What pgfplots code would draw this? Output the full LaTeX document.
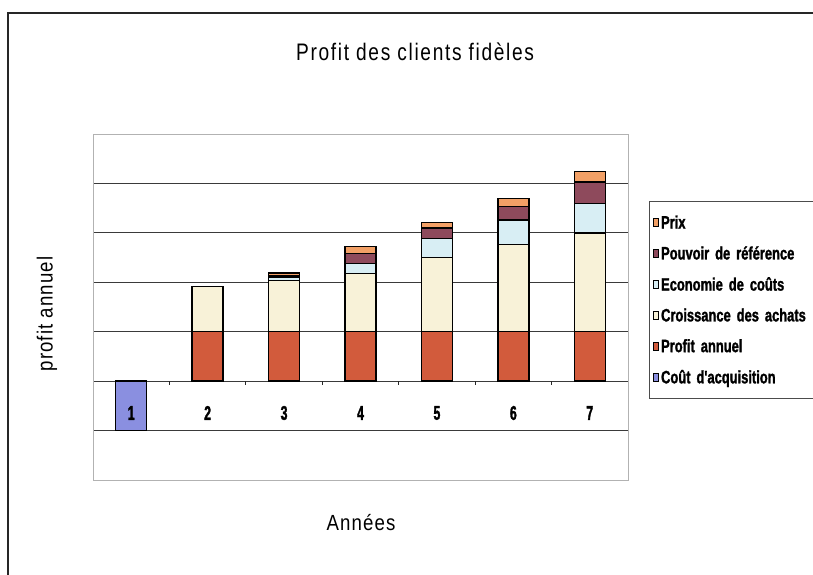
\documentclass[border=0pt]{standalone}
\usepackage{pgfplots}
\usepackage{pgfplotstable}
\pgfplotsset{compat=1.18}
\usepackage{fontspec}
\setmainfont{Liberation Sans}
\newfontfamily\condbold[FakeStretch=0.72,FakeBold=1.4]{Liberation Sans Bold}
\newfontfamily\tickfont[FakeStretch=0.62,FakeBold=1.5]{Liberation Sans Bold}
\newfontfamily\titlefont[LetterSpace=7,FakeStretch=0.8]{Liberation Sans}
\newfontfamily\labfont[LetterSpace=5,FakeStretch=0.85]{Liberation Sans}
\definecolor{cout}{HTML}{8A8FE0}
\definecolor{profit}{HTML}{D25B3C}
\definecolor{croiss}{HTML}{F8F2D8}
\definecolor{econ}{HTML}{D8EEF4}
\definecolor{pouvoir}{HTML}{8E4A5C}
\definecolor{prix}{HTML}{F2A066}
\definecolor{gridc}{HTML}{3A3A3A}
\pgfplotstableread{
x cout profit croiss econ pouvoir prix
1 -1 0 0 0 0 0
2 0 1 0.91 0 0 0
3 0 1 1.03 0.08 0.03 0.05
4 0 1 1.18 0.20 0.20 0.14
5 0 1 1.50 0.38 0.22 0.11
6 0 1 1.77 0.49 0.27 0.17
7 0 1 2.00 0.60 0.43 0.21
}\datatable
\pgfplotsset{
  geom/.style={at={(93bp,95bp)}, anchor=south west,
    scale only axis, width=535bp, height=346bp,
    xmin=0.5, xmax=7.5, ymin=-2, ymax=5},
}
\begin{document}
\begin{tikzpicture}
\path[use as bounding box] (0,0) rectangle (813bp,575bp);
\clip (0,0) rectangle (813bp,575bp);
\draw[line width=1.3bp, black!85] (8bp,0) -- (8bp,562bp) -- (813bp,562bp);
\begin{axis}[
  geom,
  ybar stacked, bar width=31bp,
  xtick={1,...,7},
  xticklabels={},
  major tick length=0pt,
  ytick={-1,0,...,4},
  yticklabels={},
  ymajorgrids,
  major grid style={gridc, line width=0.9bp},
  axis line style={black!30, line width=0.6bp},
  title={Profit des clients fidèles},
  title style={at={(axis description cs:0.602,1.22)}, anchor=center, font=\titlefont\fontsize{24}{24}\selectfont},
  xlabel={Années},
  xlabel style={at={(axis description cs:0.501,-0.124)}, anchor=center, font=\labfont\fontsize{22}{22}\selectfont},
  ylabel={profit annuel},
  ylabel style={at={(axis description cs:-0.086,0.48)}, anchor=center, font=\labfont\fontsize{22}{22}\selectfont},
  legend style={at={(axis description cs:1.0393,0.806)}, anchor=north west,
    draw=black!70, line width=0.8bp, fill=white,
    font=\condbold\fontsize{18}{18}\selectfont,
    row sep=12.3bp, inner xsep=4bp, inner ysep=12bp,
    nodes={text width=150bp, align=left}},
  legend cell align=left,
  reverse legend,
  legend image code/.code={\draw[#1, line width=0.7bp] (0bp,-4bp) rectangle (5bp,4bp);},
  every axis plot/.append style={draw=black, line width=1.3bp},
]
\addplot[fill=cout] table[x=x, y=cout] {\datatable};
\addlegendentry{Coût d'acquisition}
\addplot[fill=profit] table[x=x, y=profit] {\datatable};
\addlegendentry{Profit annuel}
\addplot[fill=croiss] table[x=x, y=croiss] {\datatable};
\addlegendentry{Croissance des achats}
\addplot[fill=econ] table[x=x, y=econ] {\datatable};
\addlegendentry{Economie de coûts}
\addplot[fill=pouvoir] table[x=x, y=pouvoir] {\datatable};
\addlegendentry{Pouvoir de référence}
\addplot[fill=prix] table[x=x, y=prix] {\datatable};
\addlegendentry{Prix}
\pgfplotsinvokeforeach{1.5,2.5,3.5,4.5,5.5,6.5}{
  \draw[black!85, line width=0.9bp] (axis cs:#1,0) -- ([yshift=-4bp]axis cs:#1,0);
}
\end{axis}
% overlay axis carrying the year labels above the bars
\begin{axis}[
  geom,
  axis line style={draw=none},
  xtick={1,...,7},
  xticklabels={1,2,3,4,5,6,7},
  xticklabel style={anchor=center, yshift=67bp, font=\tickfont\fontsize{20}{20}\selectfont},
  major tick length=0pt,
  ytick=\empty,
]
\end{axis}
\end{tikzpicture}
\end{document}
